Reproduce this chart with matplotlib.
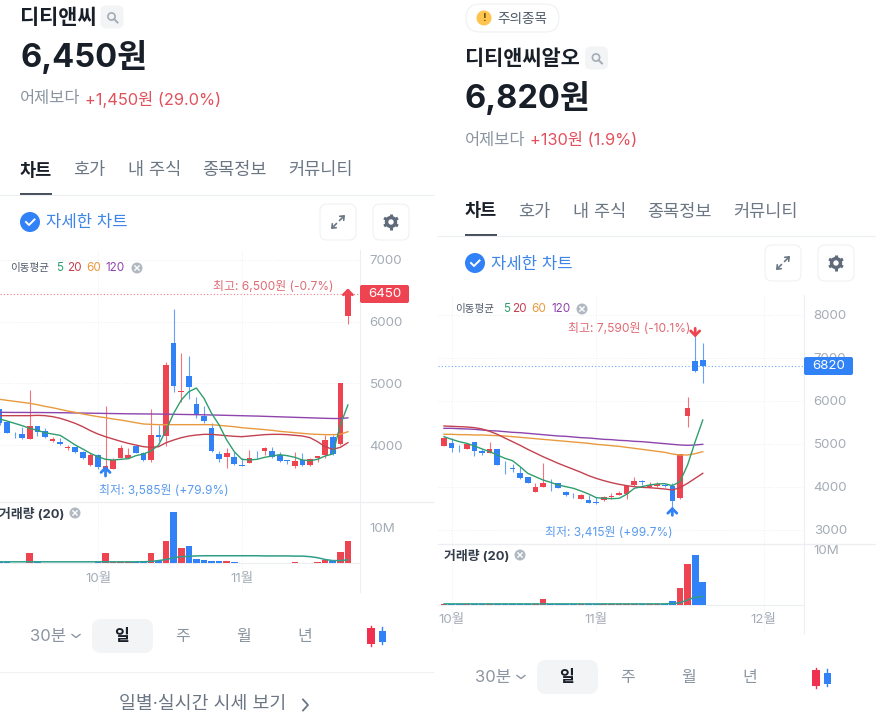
"""Two Korean stock app screens side by side: candle chart, moving averages, volume"""

import matplotlib
matplotlib.use('Agg')
import matplotlib.pyplot as plt
from matplotlib.patches import FancyBboxPatch, Circle, Rectangle
import math

plt.rcParams['font.family'] = ['Inter', 'Noto Sans CJK KR', 'DejaVu Sans']

# ---- left stock
L_OPEN = [4578, 4378, 4184, 4178, 4097, 4308, 4233, 4060, 4043, 3951, 3973, 3887, 3670, 3832, 3595, 3616,
          3795, 3789, 3984, 3865, 3757, 4168, 4151, 5654, 4865, 5124, 4670, 4476, 4276, 3849, 3805, 3805,
          3676, 3714, 3892, 3897, 3897, 3832, 3751, 3665, 3757, 3676, 3789, 3838, 4130, 4011, 6097]
L_CLOSE = [4351, 4200, 4173, 4108, 4308, 4205, 4130, 4103, 4011, 3973, 3892, 3784, 3832, 3638, 3660, 3757,
           3946, 3843, 3876, 3751, 4162, 4130, 5297, 4962, 4881, 4935, 4487, 4389, 3903, 3778, 3865, 3687,
           3665, 3784, 3887, 3951, 3811, 3735, 3735, 3741, 3670, 3773, 3816, 4076, 3849, 5000, 6450]
L_HIGH = [4578, 4395, 4216, 4297, 4892, 4308, 4270, 4135, 4108, 4000, 3973, 3903, 3865, 3854, 4638, 3784,
          4000, 3946, 4000, 3892, 4584, 4324, 5351, 6205, 5497, 5443, 4784, 4638, 4351, 3903, 3946, 3892,
          3784, 3919, 3903, 3973, 3973, 3881, 3751, 3892, 3865, 3784, 3827, 4162, 4157, 5000, 6500]
L_LOW = [4324, 4189, 4108, 4092, 4097, 4151, 4119, 4054, 4000, 3919, 3876, 3773, 3660, 3605, 3585, 3611,
         3784, 3784, 3865, 3746, 3730, 4070, 3989, 4865, 4703, 4746, 4432, 4362, 3892, 3730, 3622, 3676,
         3660, 3703, 3784, 3838, 3784, 3724, 3687, 3622, 3660, 3665, 3730, 3784, 3838, 4000, 5962]
L_MA5 = [4422, 4389, 4351, 4314, 4270, 4238, 4200, 4178, 4157, 4081, 4000, 3935, 3865, 3811, 3768, 3757,
         3768, 3778, 3827, 3854, 3903, 4000, 4243, 4514, 4730, 4865, 4924, 4757, 4514, 4324, 4081, 3892,
         3768, 3757, 3768, 3800, 3822, 3843, 3827, 3800, 3757, 3746, 3768, 3822, 3854, 4324, 4649]
L_MA20 = [4476, 4476, 4476, 4476, 4476, 4481, 4476, 4460, 4433, 4395, 4351, 4297, 4233, 4178, 4135, 4097,
          4060, 4027, 4000, 3973, 3962, 3973, 4038, 4081, 4119, 4146, 4162, 4173, 4173, 4162, 4151, 4141,
          4135, 4146, 4157, 4168, 4173, 4173, 4168, 4157, 4146, 4119, 4054, 3973, 3930, 3962, 4038]
L_MA60 = [4741, 4724, 4708, 4692, 4676, 4654, 4627, 4605, 4578, 4551, 4530, 4503, 4481, 4460, 4443, 4422,
          4405, 4384, 4362, 4341, 4335, 4330, 4330, 4330, 4330, 4330, 4330, 4330, 4330, 4319, 4308, 4297,
          4281, 4270, 4260, 4249, 4238, 4222, 4211, 4200, 4189, 4178, 4173, 4168, 4168, 4173, 4216]
L_MA120 = [4530, 4529, 4528, 4528, 4527, 4527, 4526, 4525, 4524, 4522, 4520, 4518, 4516, 4514, 4512, 4510,
           4508, 4506, 4505, 4504, 4503, 4502, 4500, 4498, 4496, 4494, 4492, 4490, 4487, 4484, 4481, 4478,
           4475, 4472, 4469, 4465, 4461, 4457, 4453, 4449, 4445, 4441, 4437, 4433, 4430, 4430, 4440]
L_VOLUME = [0.3, 0.3, 0.15, 0.2, 2.8, 0.3, 0.2, 0.15, 0.15, 0.15, 0.15, 0.2, 0.25, 0.3, 2.8, 0.4,
            0.4, 0.3, 0.3, 0.3, 2.8, 0.6, 6.3, 14.3, 4.2, 4.8, 1.2, 0.9, 0.8, 0.6, 0.6, 0.3,
            0.2, 0.25, 0.2, 0.25, 0.2, 0.25, 0.2, 0.3, 0.2, 0.25, 0.3, 1.0, 0.8, 3.3, 6.2]
L_VOL_MA = [0.45, 0.45, 0.45, 0.45, 0.45, 0.45, 0.45, 0.45, 0.45, 0.45, 0.45, 0.45, 0.45, 0.45, 0.45, 0.45,
            0.45, 0.45, 0.45, 0.47, 0.55, 0.8, 1.1, 1.6, 1.9, 2.0, 2.1, 2.15, 2.15, 2.15, 2.15, 2.15,
            2.15, 2.15, 2.15, 2.1, 2.1, 2.1, 2.1, 2.05, 2.05, 1.9, 1.6, 1.1, 0.8, 0.8, 1.0]

# ---- right stock
R_OPEN = [4961, 5031, 4907, 4891, 5039, 4837, 4798, 4884, 4519, 4434, 4325, 4225, 3891, 4000, 4093, 4093, 3884,
          3798, 3721, 3698, 3659, 3690, 3767, 3814, 3837, 4039, 4139, 4000, 4031, 4046, 4031, 3752, 5651, 6938, 6953]
R_CLOSE = [5132, 4899, 4899, 5000, 4837, 4791, 4884, 4519, 4504, 4418, 4217, 4101, 4008, 4101, 4085, 3984, 3806,
           3783, 3806, 3628, 3636, 3760, 3791, 3853, 4015, 4139, 4116, 4046, 4062, 4015, 3666, 4759, 5829, 6690, 6820]
R_HIGH = [5170, 5132, 4977, 5015, 5054, 4884, 5054, 4884, 4612, 4527, 4457, 4225, 4085, 4558, 4178, 4101, 3907,
          3853, 3829, 3814, 3775, 3783, 3853, 3915, 4046, 4225, 4163, 4108, 4124, 4077, 4085, 4759, 6085, 7590, 7341]
R_LOW = [4953, 4822, 4806, 4876, 4729, 4744, 4791, 4519, 4294, 4356, 4186, 4085, 3884, 3992, 3915, 3969, 3791,
         3736, 3713, 3620, 3612, 3682, 3713, 3814, 3721, 4031, 4046, 3969, 4000, 4000, 3415, 3721, 5387, 6682, 6426]
R_MA5 = [5170, 5108, 5054, 5015, 4953, 4884, 4822, 4744, 4667, 4612, 4473, 4318, 4240, 4163, 4108, 4046, 4008,
         3969, 3907, 3837, 3752, 3736, 3728, 3736, 3829, 3969, 4008, 4046, 4070, 4077, 4031, 4124, 4511, 5054, 5558]
R_MA20 = [5418, 5411, 5403, 5395, 5380, 5349, 5294, 5225, 5139, 5054, 4969, 4876, 4791, 4705, 4628, 4550, 4480,
          4411, 4341, 4263, 4201, 4147, 4101, 4062, 4031, 4008, 3992, 3984, 3969, 3953, 3930, 3984, 4085, 4201, 4318]
R_MA60 = [5225, 5225, 5217, 5217, 5209, 5209, 5201, 5194, 5186, 5170, 5155, 5139, 5124, 5108, 5093, 5077, 5062,
          5046, 5031, 5015, 4992, 4977, 4961, 4946, 4922, 4899, 4876, 4853, 4829, 4806, 4767, 4744, 4744, 4775, 4822]
R_MA120 = [5364, 5364, 5356, 5349, 5341, 5325, 5310, 5302, 5287, 5271, 5263, 5248, 5232, 5217, 5201, 5186, 5178,
           5163, 5147, 5139, 5124, 5108, 5101, 5085, 5077, 5062, 5054, 5039, 5023, 5008, 4992, 4977, 4969, 4977, 4992]
R_VOLUME = [0.1, 0.1, 0.1, 0.1, 0.1, 0.1, 0.1, 0.1, 0.1, 0.1, 0.1, 0.1, 0.1, 1.0, 0.1, 0.1, 0.1,
            0.1, 0.1, 0.1, 0.1, 0.1, 0.1, 0.1, 0.1, 0.1, 0.1, 0.1, 0.1, 0.1, 0.65, 3.1, 7.3, 9.0, 4.2]
R_VOL_MA = [0.2, 0.2, 0.2, 0.2, 0.2, 0.2, 0.2, 0.2, 0.2, 0.2, 0.2, 0.2, 0.2, 0.2, 0.2, 0.2, 0.2,
            0.2, 0.2, 0.2, 0.2, 0.2, 0.2, 0.2, 0.2, 0.2, 0.2, 0.2, 0.2, 0.2, 0.25, 0.4, 0.9, 1.4, 1.5]

L_PRICE_TICKS = [4000, 5000, 6000, 7000]
R_PRICE_TICKS = [3000, 4000, 5000, 6000, 7000, 8000]
L_MONTH_TICKS = [13, 32]
R_MONTH_TICKS = [1, 20, 42]
MONTH_LABELS_L = ['10월', '11월']
MONTH_LABELS_R = ['10월', '11월', '12월']
TAB_LABELS = ['차트', '호가', '내 주식', '종목정보', '커뮤니티']
RANGE_LABELS = ['일', '주', '월', '년']

RED = '#ee4452'
BLUE = '#3182f6'
DARK = '#191f28'
GRAY = '#8b95a1'
TAB_GRAY = '#6b7684'
AXIS_GRAY = '#a4acb6'
LINE = '#eceef1'
MA_COLORS = {5: '#2f9e6e', 20: '#c4414f', 60: '#e99a3e', 120: '#8e44ad'}
W, H = 876, 726

fig = plt.figure(figsize=(W / 100, H / 100), dpi=100, facecolor='white')
ui = fig.add_axes([0, 0, 1, 1], zorder=5)
ui.set_xlim(0, W)
ui.set_ylim(H, 0)
ui.axis('off')
ui.patch.set_alpha(0)


def px_axes(x0, x1, y0, y1):
    return fig.add_axes([x0 / W, 1 - y1 / H, (x1 - x0) / W, (y1 - y0) / H], zorder=2)


def draw_chart(x0, x1, top, sep, bottom, xlim, pylim, vylim, data, price_ticks, month_ticks, months):
    op, cl, hi, lo, ma5, ma20, ma60, ma120, vol, vol_ma = data
    idx = list(range(len(op)))
    colors = [RED if c >= o else BLUE for o, c in zip(op, cl)]

    ax = px_axes(x0, x1, top, sep)
    ax.set_xlim(*xlim)
    ax.set_ylim(*pylim)
    ax.vlines(idx, lo, hi, colors=colors, lw=0.8, alpha=0.75, zorder=3)
    ax.bar(idx, [abs(c - o) for o, c in zip(op, cl)], bottom=[min(o, c) for o, c in zip(op, cl)],
           width=0.74, color=colors, zorder=4)
    for values, key in ((ma120, 120), (ma60, 60), (ma20, 20), (ma5, 5)):
        ax.plot(idx, values, color=MA_COLORS[key], lw=1.0, zorder=5)
    ax.set_yticks(price_ticks)
    ax.set_xticks(month_ticks)
    ax.yaxis.tick_right()
    ax.tick_params(axis='y', length=0, pad=7, labelsize=9.6, labelcolor=AXIS_GRAY)
    ax.tick_params(axis='x', length=0, labelbottom=False)
    ax.grid(True, color='#edeff2', lw=0.7, ls=':')
    ax.set_axisbelow(True)
    for side in ('top', 'left', 'bottom'):
        ax.spines[side].set_visible(False)
    ax.spines['right'].set_color(LINE)

    vx = px_axes(x0, x1, sep, bottom)
    vx.set_xlim(*xlim)
    vx.set_ylim(*vylim)
    vx.bar(idx, vol, width=0.88, color=colors, zorder=3)
    vx.plot(idx, vol_ma, color='#2e9e8a', lw=1.1, zorder=4)
    vx.axhline(0, color=LINE, lw=0.8, zorder=1)
    vx.set_yticks([10])
    vx.set_yticklabels(['10M'])
    vx.set_xticks(month_ticks)
    vx.set_xticklabels(months)
    vx.yaxis.tick_right()
    vx.tick_params(axis='y', length=0, pad=7, labelsize=9.6, labelcolor=AXIS_GRAY)
    vx.tick_params(axis='x', length=0, pad=-14, labelsize=9.6, labelcolor=AXIS_GRAY)
    vx.grid(True, axis='x', color='#edeff2', lw=0.7, ls=':')
    vx.set_axisbelow(True)
    for side in ('top', 'left', 'bottom'):
        vx.spines[side].set_visible(False)
    vx.spines['right'].set_color(LINE)
    return ax


def price_arrow(ax, i, tip, tail, color):
    ax.annotate('', xy=(i, tip), xytext=(i, tail), zorder=7,
                arrowprops=dict(arrowstyle='->,head_length=0.36,head_width=0.36', color=color,
                                lw=2.0, shrinkA=0, shrinkB=0, mutation_scale=9))


def close_icon(x, y, r=5.5):
    ui.add_patch(Circle((x, y), r, color='#b0b8c1', lw=0))
    d = r * 0.38
    ui.plot([x - d, x + d], [y - d, y + d], color='white', lw=1)
    ui.plot([x - d, x + d], [y + d, y - d], color='white', lw=1)


def round_box(x, y, w, h, r, face, edge='none'):
    ui.add_patch(FancyBboxPatch((x + r, y + r), w - 2 * r, h - 2 * r, boxstyle=f'round,pad={r},rounding_size={r}',
                                facecolor=face, edgecolor=edge, lw=0.8))


def search_chip(x, y):
    round_box(x, y, 23, 23, 6, '#f2f4f6')
    ui.add_patch(Circle((x + 11, y + 11), 3.6, fill=False, edgecolor='#a4acb6', lw=1.2))
    ui.plot([x + 13.6, x + 17], [y + 13.6, y + 17], color='#a4acb6', lw=1.4)


def candle_icon(x, y):
    ui.plot([x, x], [y - 10, y + 10], color='#f0304f', lw=1)
    ui.add_patch(Rectangle((x - 4, y - 8), 8, 16, color='#f0304f', lw=0))
    ui.plot([x + 11, x + 11], [y - 9, y + 8], color=BLUE, lw=1)
    ui.add_patch(Rectangle((x + 7.5, y - 5.5), 7, 11, color=BLUE, lw=0))


def gear_icon(x, y):
    ui.add_patch(Circle((x, y), 6.2, color='#5f6b7a', lw=0))
    for k in range(6):
        a = math.radians(60 * k + 30)
        ui.plot([x + 5 * math.cos(a), x + 8 * math.cos(a)], [y + 5 * math.sin(a), y + 8 * math.sin(a)],
                color='#5f6b7a', lw=2.2, solid_capstyle='butt')
    ui.add_patch(Circle((x, y), 2.7, color='white', lw=0))


def header(ox, dy, name, price, change, chip_x):
    ui.text(ox, 18 + dy, name, fontsize=15, fontweight='bold', color=DARK, va='center')
    search_chip(chip_x, 5.5 + dy)
    ui.text(ox, 57 + dy, price, fontsize=23.5, fontweight='bold', color=DARK, va='center')
    ui.text(ox, 99 + dy, '어제보다', fontsize=11.8, color=GRAY, va='center')
    ui.text(ox + 65, 99 + dy, change, fontsize=11.8, color='#e2505c', va='center')
    for label, off in zip(TAB_LABELS, (0, 53, 108, 182, 268)):
        ui.text(ox + off, 171 + dy, label, fontsize=12.6, va='center',
                color=DARK if off == 0 else TAB_GRAY, fontweight='bold' if off == 0 else 'normal')
    ui.plot([ox, ox + 32], [193.5 + dy, 193.5 + dy], color='#333d4b', lw=1.3, solid_capstyle='butt')
    ui.plot([ox - 20 if ox < 100 else 438, ox + 413], [195 + dy, 195 + dy], color=LINE, lw=0.8)
    # blue check + label
    ui.add_patch(Circle((ox + 10, 222 + dy), 10, color=BLUE, lw=0))
    ui.plot([ox + 6, ox + 9, ox + 14.5], [222 + dy, 225 + dy, 219.5 + dy], color='white', lw=1.4)
    ui.text(ox + 26, 223 + dy, '자세한 차트', fontsize=12, color='#3d86e8', va='center')
    # expand button
    round_box(ox + 300, 204 + dy, 36, 36, 7, 'white', '#f0f1f3')
    ex, ey = ox + 318, 222 + dy
    for sx, sy in ((1, -1), (-1, 1)):
        ui.annotate('', xy=(ex + sx * 7, ey + sy * 7), xytext=(ex + sx * 1.5, ey + sy * 1.5),
                    arrowprops=dict(arrowstyle='->,head_length=0.3,head_width=0.25', color='#6b7684',
                                    lw=1.2, shrinkA=0, shrinkB=0, mutation_scale=8))
    # gear button
    round_box(ox + 353, 204 + dy, 36, 36, 7, 'white', '#f0f1f3')
    gear_icon(ox + 371, 222 + dy)


def ma_legend(x, y, xs, x_icon):
    ui.text(x, y, '이동평균', fontsize=7.6, color='#4e5968', va='center')
    for key, lx in zip(MA_COLORS, xs):
        ui.text(lx, y, str(key), fontsize=8.4, color=MA_COLORS[key], va='center')
    close_icon(x_icon, y)


def footer(ox, y):
    ui.text(ox + 10, y + 0.5, '30분', fontsize=12, color=GRAY, va='center')
    ui.plot([ox + 52, ox + 56, ox + 60], [y - 1.5, y + 1.5, y - 1.5], color=GRAY, lw=1)
    round_box(ox + 72, y - 17, 61, 34, 9, '#f2f4f6')
    for label, off in zip(RANGE_LABELS, (102, 163, 224, 285)):
        first = off == 102
        ui.text(ox + off, y + 0.5, label, fontsize=11.5, ha='center', va='center',
                color=DARK if first else GRAY, fontweight='bold' if first else 'normal')


# ---- left screen
left_data = (L_OPEN, L_CLOSE, L_HIGH, L_LOW, L_MA5, L_MA20, L_MA60, L_MA120, L_VOLUME, L_VOL_MA)
ax_l = draw_chart(0, 360, 250, 502, 592, (0.066, 47.6), (3076, 7162), (-8.0, 17.2), left_data,
                  L_PRICE_TICKS, L_MONTH_TICKS, MONTH_LABELS_L)
ax_l.axhline(L_CLOSE[-1], color=RED, lw=0.8, ls=(0, (1, 2)), alpha=0.7, zorder=2)
price_arrow(ax_l, 14, 3660, 3497, BLUE)
price_arrow(ax_l, 46, 6540, 6420, RED)

header(20, 0, '디티앤씨', '6,450원', '+1,450원 (29.0%)', 100.5)
ma_legend(10, 268, (56, 67, 86, 105), 137)
ui.text(213, 287.5, '최고: 6,500원 (-0.7%)', fontsize=8.6, color='#de6b74', va='center')
ui.text(99, 491.5, '최저: 3,585원 (+79.9%)', fontsize=8.6, color='#5a9bee', va='center')
round_box(360, 285, 49, 18, 2, RED)
ui.text(384.5, 294, f'{L_CLOSE[-1]}', fontsize=9.6, color='white', ha='center', va='center')
ui.plot([0, 433], [502, 502], color=LINE, lw=0.9)
ui.text(-1, 514, '거래량 (20)', fontsize=9.3, fontweight='bold', color='#333d4b', va='center')
close_icon(75, 513)
footer(20, 636)
candle_icon(371, 636)
ui.plot([0, 433], [672, 672], color='#f0f1f3', lw=0.8)
ui.text(119, 705, '일별·실시간 시세 보기', fontsize=13.2, color='#6b7684', va='center')
ui.plot([303, 308, 303], [699.5, 705, 710.5], color='#6b7684', lw=1.3)

# ---- right screen
right_data = (R_OPEN, R_CLOSE, R_HIGH, R_LOW, R_MA5, R_MA20, R_MA60, R_MA120, R_VOLUME, R_VOL_MA)
ax_r = draw_chart(438, 804, 295, 544, 633, (-0.79, 47.3), (2674, 8465), (-5.0, 10.9), right_data,
                  R_PRICE_TICKS, R_MONTH_TICKS, MONTH_LABELS_R)
ax_r.axhline(R_CLOSE[-1], color=BLUE, lw=0.8, ls=(0, (1, 2)), alpha=0.7, zorder=2)
price_arrow(ax_r, 30, 3540, 3340, BLUE)
price_arrow(ax_r, 33, 7480, 7690, RED)

round_box(466, 4, 93, 28, 14, 'white', '#eef0f2')
ui.add_patch(Circle((484, 18), 7.5, color='#ffc44d', lw=0))
ui.text(484, 18, '!', fontsize=8, fontweight='bold', color='#6b5316', ha='center', va='center')
ui.text(497, 18.5, '주의종목', fontsize=9.8, color='#4e5968', va='center')

header(465, 41, '디티앤씨알오', '6,820원', '+130원 (1.9%)', 585)
ma_legend(455, 309, (503.5, 512, 531, 551), 582)
ui.text(568, 328.5, '최고: 7,590원 (-10.1%)', fontsize=8.6, color='#de6b74', va='center')
ui.text(545, 532.5, '최저: 3,415원 (+99.7%)', fontsize=8.6, color='#5a9bee', va='center')
round_box(804, 357, 49, 18, 2, BLUE)
ui.text(829, 366, f'{R_CLOSE[-1]}', fontsize=9.6, color='white', ha='center', va='center')
ui.plot([438, 876], [544, 544], color=LINE, lw=0.9)
ui.text(444, 556, '거래량 (20)', fontsize=9.3, fontweight='bold', color='#333d4b', va='center')
close_icon(520, 555)
footer(465, 677)
candle_icon(816, 678)

fig.savefig('out.png', dpi=100, facecolor='white')
